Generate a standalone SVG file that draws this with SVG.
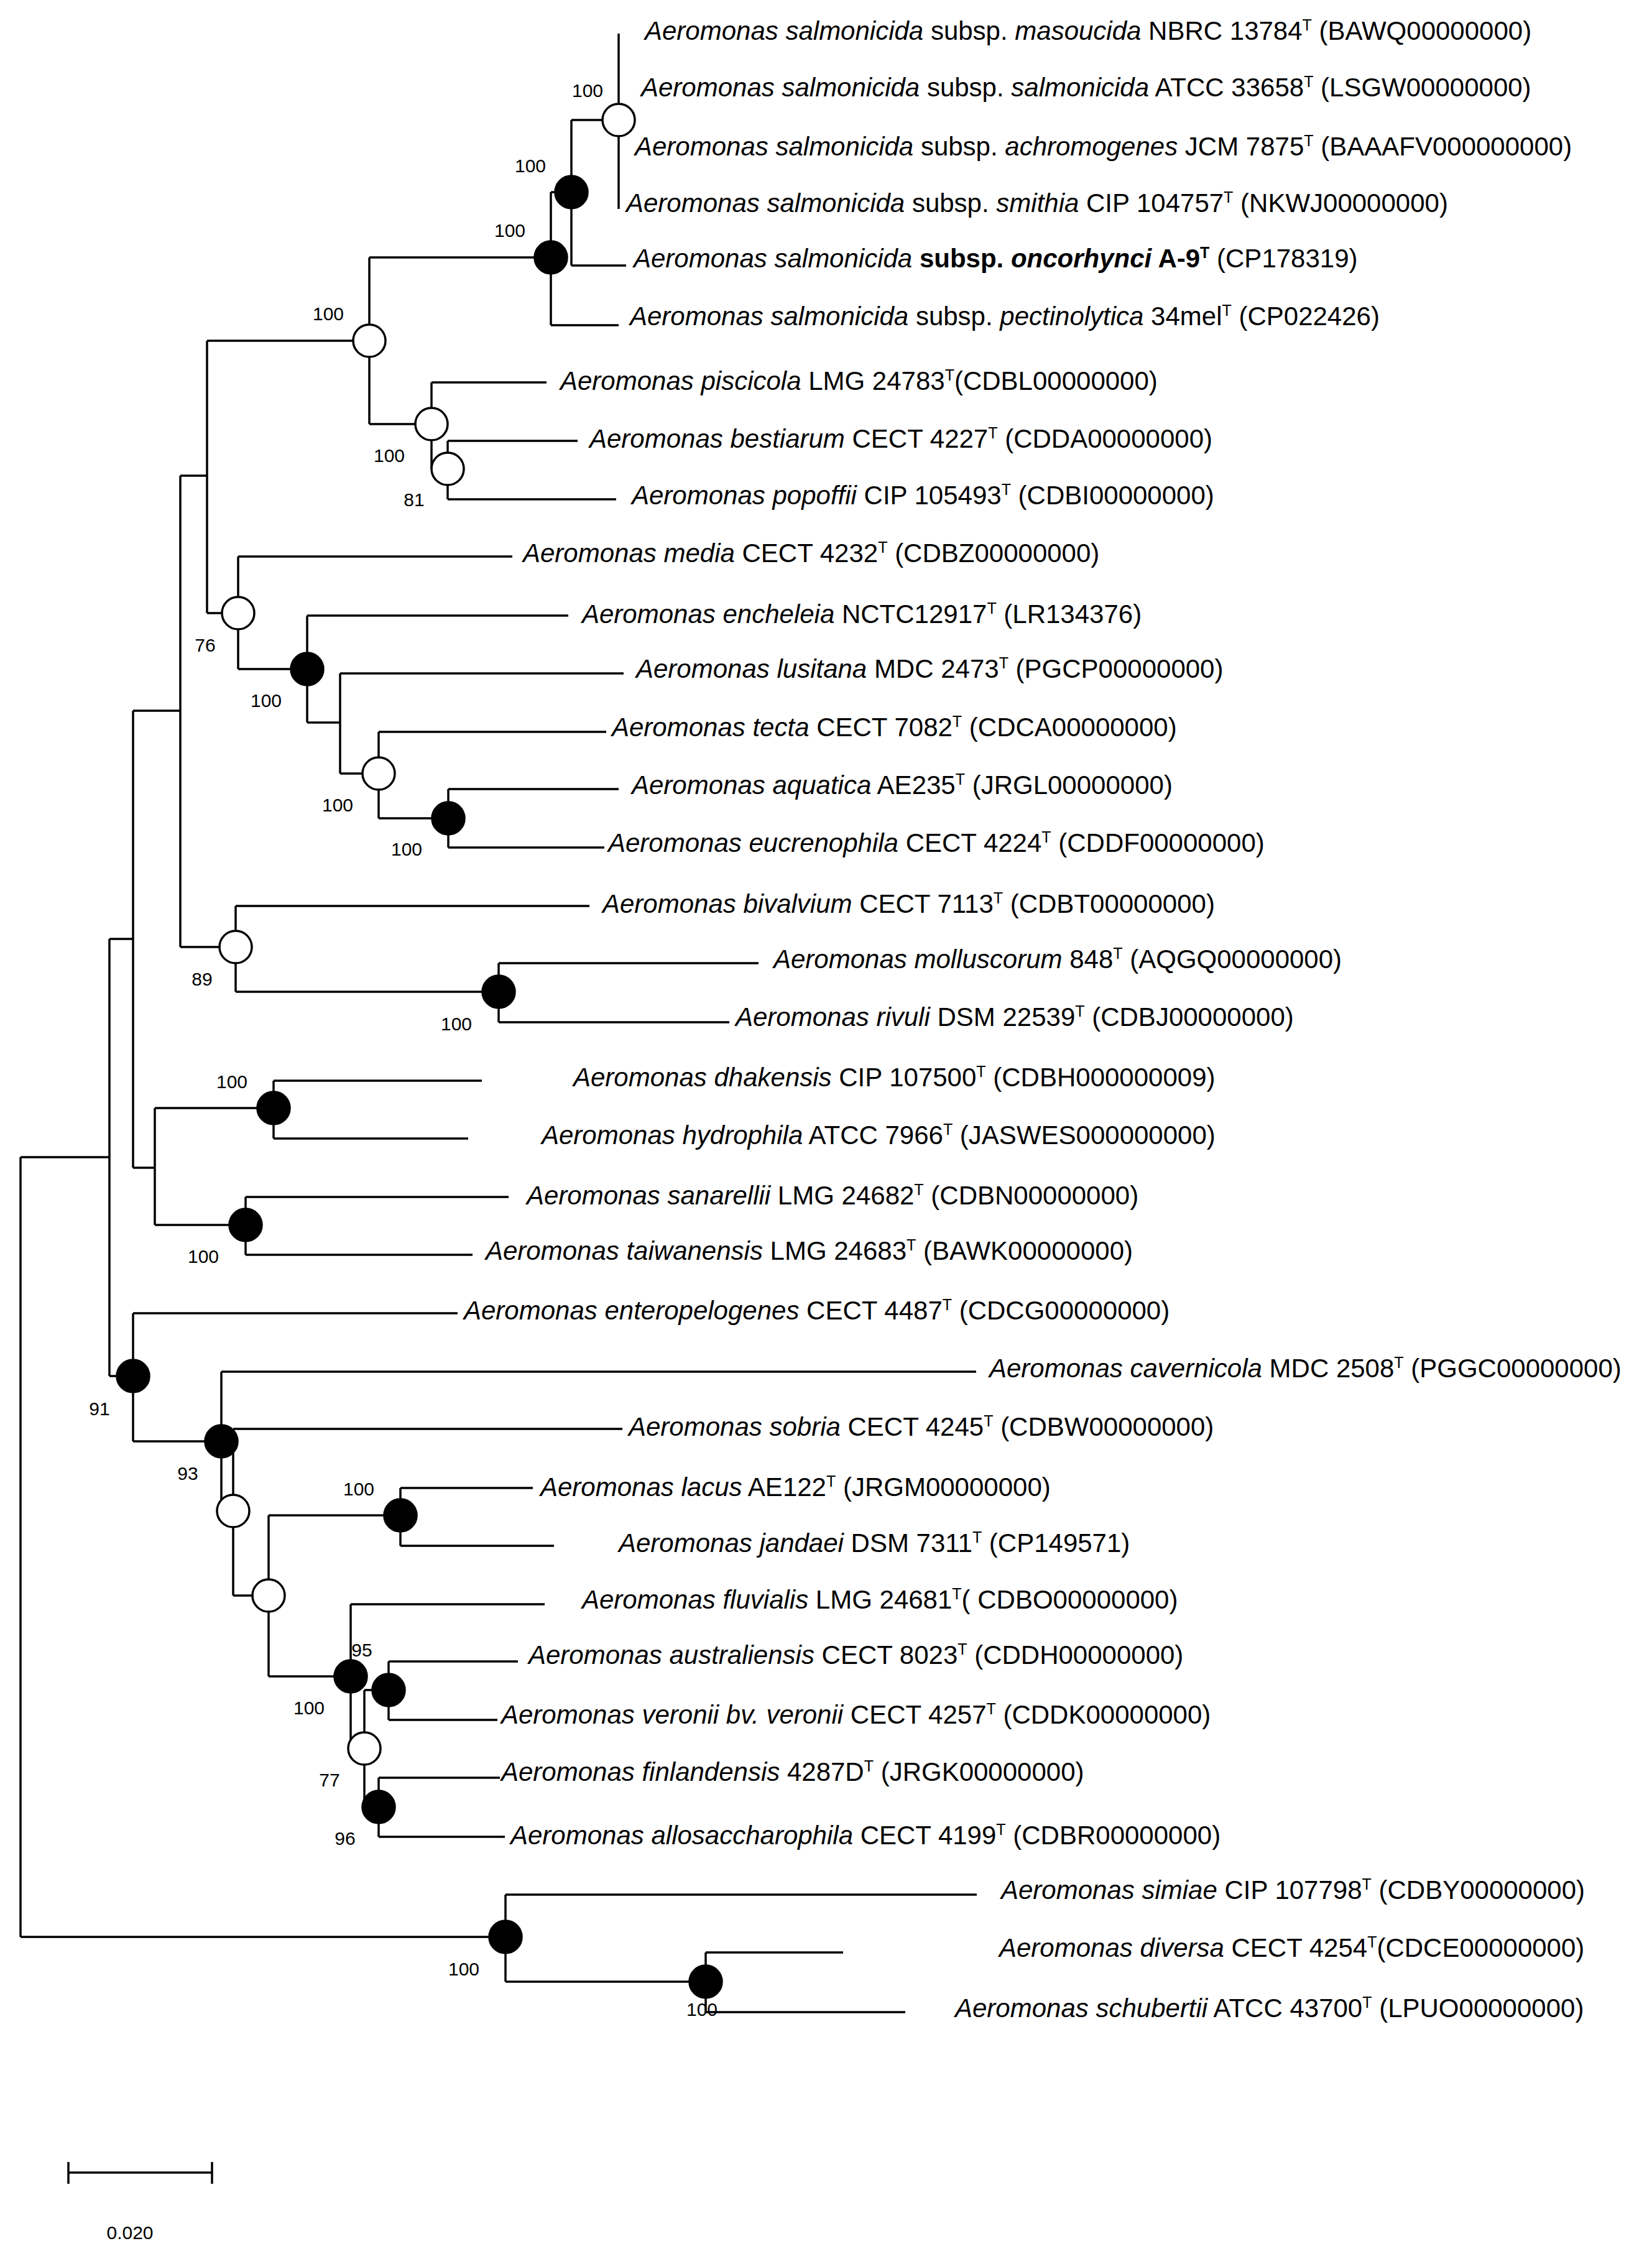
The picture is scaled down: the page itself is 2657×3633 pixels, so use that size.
<svg xmlns="http://www.w3.org/2000/svg" width="2657" height="3633" viewBox="0 0 2657 3633">
<style>
.tx{font-family:"Liberation Sans",Arial,sans-serif;font-size:42px;fill:#000}
.it{font-style:italic}
.b{font-weight:bold}
.bs{font-family:"Liberation Sans",Arial,sans-serif;font-size:30px;fill:#000;text-anchor:middle}
.br{stroke:#000;stroke-width:3.5;fill:none}
.on{fill:#fff;stroke:#000;stroke-width:3.5}
.fn{fill:#000;stroke:#000;stroke-width:3.5}
.sup{font-size:25px}
</style>
<rect width="2657" height="3633" fill="#fff"/>
<g id="connectors" class="br">
<path d="M33,1861 V3115 M33,1861 H176 M33,3115 H813"/>
<path d="M176,1510 V2213 M176,1510 H214 M176,2213 H214"/>
<path d="M214,1143 V1878 M214,1143 H290 M214,1878 H249"/>
<path d="M290,765 V1523 M290,765 H333 M290,1523 H379"/>
<path d="M333,548 V986 M333,548 H594 M333,986 H383"/>
<path d="M594,414 V682 M594,414 H886 M594,682 H694"/>
<path d="M886,309 V523 M886,309 H919 M886,523 H995"/>
<path d="M919,193 V427 M919,193 H995 M919,427 H1007"/>
<path d="M995,54 V336"/>
<path d="M694,615 V753 M694,615 H879 M694,753 H720"/>
<path d="M720,709 V803 M720,709 H929 M720,803 H991"/>
<path d="M383,895 V1076 M383,895 H824 M383,1076 H494"/>
<path d="M494,990 V1162 M494,990 H914 M494,1162 H547"/>
<path d="M547,1083 V1244 M547,1083 H1003 M547,1244 H609"/>
<path d="M609,1177 V1316 M609,1177 H975 M609,1316 H721"/>
<path d="M721,1269 V1363 M721,1269 H995 M721,1363 H972"/>
<path d="M379,1457 V1595 M379,1457 H948 M379,1595 H802"/>
<path d="M802,1549 V1644 M802,1549 H1220 M802,1644 H1173"/>
<path d="M249,1782 V1970 M249,1782 H440 M249,1970 H395"/>
<path d="M440,1738 V1831 M440,1738 H775 M440,1831 H753"/>
<path d="M395,1925 V2018 M395,1925 H818 M395,2018 H760"/>
<path d="M214,2112 V2318 M214,2112 H736 M214,2318 H356"/>
<path d="M356,2206 V2430 M356,2206 H1570 M356,2430 H375"/>
<path d="M375,2298 V2566 M375,2298 H1001 M375,2566 H432"/>
<path d="M432,2437 V2696 M432,2437 H644 M432,2696 H564"/>
<path d="M644,2393 V2486 M644,2393 H857 M644,2486 H891"/>
<path d="M564,2580 V2812 M564,2580 H876 M564,2812 H586"/>
<path d="M586,2718 V2906 M586,2718 H625 M586,2906 H609"/>
<path d="M625,2672 V2766 M625,2672 H833 M625,2766 H800"/>
<path d="M609,2859 V2954 M609,2859 H804 M609,2954 H812"/>
<path d="M813,3047 V3187 M813,3047 H1571 M813,3187 H1135"/>
<path d="M1135,3140 V3236 M1135,3140 H1356 M1135,3236 H1456"/>
</g>
<g id="nodes">
<g id="n-D"><circle class="on" cx="995" cy="193" r="26"/><text class="bs" x="945" y="156">100</text></g>
<g id="n-C"><circle class="fn" cx="919" cy="309" r="26"/><text class="bs" x="853" y="277">100</text></g>
<g id="n-B"><circle class="fn" cx="886" cy="414" r="26"/><text class="bs" x="820" y="381">100</text></g>
<g id="n-A"><circle class="on" cx="594" cy="548" r="26"/><text class="bs" x="528" y="515">100</text></g>
<g id="n-E"><circle class="on" cx="694" cy="682" r="26"/><text class="bs" x="626" y="743">100</text></g>
<g id="n-F"><circle class="on" cx="720" cy="754" r="26"/><text class="bs" x="666" y="814">81</text></g>
<g id="n-76"><circle class="on" cx="383" cy="986" r="26"/><text class="bs" x="330" y="1048">76</text></g>
<g id="n-G"><circle class="fn" cx="494" cy="1076" r="26"/><text class="bs" x="428" y="1137">100</text></g>
<g id="n-I"><circle class="on" cx="609" cy="1244" r="26"/><text class="bs" x="543" y="1305">100</text></g>
<g id="n-J"><circle class="fn" cx="721" cy="1316" r="26"/><text class="bs" x="654" y="1376">100</text></g>
<g id="n-89"><circle class="on" cx="379" cy="1523" r="26"/><text class="bs" x="325" y="1585">89</text></g>
<g id="n-K"><circle class="fn" cx="802" cy="1595" r="26"/><text class="bs" x="734" y="1657">100</text></g>
<g id="n-L"><circle class="fn" cx="440" cy="1782" r="26"/><text class="bs" x="373" y="1750">100</text></g>
<g id="n-M"><circle class="fn" cx="395" cy="1970" r="26"/><text class="bs" x="327" y="2031">100</text></g>
<g id="n-91"><circle class="fn" cx="214" cy="2213" r="26"/><text class="bs" x="160" y="2276">91</text></g>
<g id="n-93"><circle class="fn" cx="356" cy="2318" r="26"/><text class="bs" x="302" y="2380">93</text></g>
<g id="n-Z1"><circle class="on" cx="375" cy="2430" r="26"/></g>
<g id="n-Z2"><circle class="on" cx="432" cy="2566" r="26"/></g>
<g id="n-N"><circle class="fn" cx="644" cy="2437" r="26"/><text class="bs" x="577" y="2405">100</text></g>
<g id="n-O"><circle class="fn" cx="564" cy="2696" r="26"/><text class="bs" x="582" y="2664">95</text><text class="bs" x="497" y="2757">100</text></g>
<g id="n-Q"><circle class="fn" cx="625" cy="2718" r="26"/></g>
<g id="n-P"><circle class="on" cx="586" cy="2812" r="26"/><text class="bs" x="530" y="2873">77</text></g>
<g id="n-R"><circle class="fn" cx="609" cy="2906" r="26"/><text class="bs" x="555" y="2967">96</text></g>
<g id="n-S"><circle class="fn" cx="813" cy="3115" r="26"/><text class="bs" x="746" y="3177">100</text></g>
<g id="n-T"><circle class="fn" cx="1135" cy="3187" r="26"/><text class="bs" x="1129" y="3242">100</text></g>
</g>
<g id="taxa" class="tx">
<g id="t01"><text x="1037" y="64"><tspan class="it">Aeromonas salmonicida</tspan> subsp. <tspan class="it">masoucida</tspan> NBRC 13784<tspan class="sup" dy="-15">T</tspan><tspan dy="15"> (BAWQ00000000)</tspan></text></g>
<g id="t02"><text x="1031" y="155"><tspan class="it">Aeromonas salmonicida</tspan> subsp. <tspan class="it">salmonicida</tspan> ATCC 33658<tspan class="sup" dy="-15">T</tspan><tspan dy="15"> (LSGW00000000)</tspan></text></g>
<g id="t03"><text x="1021" y="250"><tspan class="it">Aeromonas salmonicida</tspan> subsp. <tspan class="it">achromogenes</tspan> JCM 7875<tspan class="sup" dy="-15">T</tspan><tspan dy="15"> (BAAAFV000000000)</tspan></text></g>
<g id="t04"><text x="1007" y="341"><tspan class="it">Aeromonas salmonicida</tspan> subsp. <tspan class="it">smithia</tspan> CIP 104757<tspan class="sup" dy="-15">T</tspan><tspan dy="15"> (NKWJ00000000)</tspan></text></g>
<g id="t05"><text x="1019" y="430"><tspan class="it">Aeromonas salmonicida</tspan> <tspan class="b">subsp. </tspan><tspan class="b it">oncorhynci</tspan><tspan class="b"> A-9</tspan><tspan class="sup b" dy="-15">T</tspan><tspan dy="15"> (CP178319)</tspan></text></g>
<g id="t06"><text x="1013" y="523"><tspan class="it">Aeromonas salmonicida</tspan> subsp. <tspan class="it">pectinolytica</tspan> 34mel<tspan class="sup" dy="-15">T</tspan><tspan dy="15"> (CP022426)</tspan></text></g>
<g id="t07"><text x="901" y="627"><tspan class="it">Aeromonas piscicola</tspan> LMG 24783<tspan class="sup" dy="-15">T</tspan><tspan dy="15">(CDBL00000000)</tspan></text></g>
<g id="t08"><text x="948" y="720"><tspan class="it">Aeromonas bestiarum</tspan> CECT 4227<tspan class="sup" dy="-15">T</tspan><tspan dy="15"> (CDDA00000000)</tspan></text></g>
<g id="t09"><text x="1016" y="811"><tspan class="it">Aeromonas popoffii</tspan> CIP 105493<tspan class="sup" dy="-15">T</tspan><tspan dy="15"> (CDBI00000000)</tspan></text></g>
<g id="t10"><text x="841" y="904"><tspan class="it">Aeromonas media</tspan> CECT 4232<tspan class="sup" dy="-15">T</tspan><tspan dy="15"> (CDBZ00000000)</tspan></text></g>
<g id="t11"><text x="936" y="1002"><tspan class="it">Aeromonas encheleia</tspan> NCTC12917<tspan class="sup" dy="-15">T</tspan><tspan dy="15"> (LR134376)</tspan></text></g>
<g id="t12"><text x="1023" y="1090"><tspan class="it">Aeromonas lusitana</tspan> MDC 2473<tspan class="sup" dy="-15">T</tspan><tspan dy="15"> (PGCP00000000)</tspan></text></g>
<g id="t13"><text x="984" y="1184"><tspan class="it">Aeromonas tecta</tspan> CECT 7082<tspan class="sup" dy="-15">T</tspan><tspan dy="15"> (CDCA00000000)</tspan></text></g>
<g id="t14"><text x="1016" y="1277"><tspan class="it">Aeromonas aquatica</tspan> AE235<tspan class="sup" dy="-15">T</tspan><tspan dy="15"> (JRGL00000000)</tspan></text></g>
<g id="t15"><text x="978" y="1370"><tspan class="it">Aeromonas eucrenophila</tspan> CECT 4224<tspan class="sup" dy="-15">T</tspan><tspan dy="15"> (CDDF00000000)</tspan></text></g>
<g id="t16"><text x="969" y="1468"><tspan class="it">Aeromonas bivalvium</tspan> CECT 7113<tspan class="sup" dy="-15">T</tspan><tspan dy="15"> (CDBT00000000)</tspan></text></g>
<g id="t17"><text x="1244" y="1557"><tspan class="it">Aeromonas molluscorum</tspan> 848<tspan class="sup" dy="-15">T</tspan><tspan dy="15"> (AQGQ00000000)</tspan></text></g>
<g id="t18"><text x="1183" y="1650"><tspan class="it">Aeromonas rivuli</tspan> DSM 22539<tspan class="sup" dy="-15">T</tspan><tspan dy="15"> (CDBJ00000000)</tspan></text></g>
<g id="t19"><text x="922" y="1747"><tspan class="it">Aeromonas dhakensis</tspan> CIP 107500<tspan class="sup" dy="-15">T</tspan><tspan dy="15"> (CDBH000000009)</tspan></text></g>
<g id="t20"><text x="871" y="1840"><tspan class="it">Aeromonas hydrophila</tspan> ATCC 7966<tspan class="sup" dy="-15">T</tspan><tspan dy="15"> (JASWES000000000)</tspan></text></g>
<g id="t21"><text x="847" y="1937"><tspan class="it">Aeromonas sanarellii</tspan> LMG 24682<tspan class="sup" dy="-15">T</tspan><tspan dy="15"> (CDBN00000000)</tspan></text></g>
<g id="t22"><text x="781" y="2026"><tspan class="it">Aeromonas taiwanensis</tspan> LMG 24683<tspan class="sup" dy="-15">T</tspan><tspan dy="15"> (BAWK00000000)</tspan></text></g>
<g id="t23"><text x="746" y="2122"><tspan class="it">Aeromonas enteropelogenes</tspan> CECT 4487<tspan class="sup" dy="-15">T</tspan><tspan dy="15"> (CDCG00000000)</tspan></text></g>
<g id="t24"><text x="1591" y="2215"><tspan class="it">Aeromonas cavernicola</tspan> MDC 2508<tspan class="sup" dy="-15">T</tspan><tspan dy="15"> (PGGC00000000)</tspan></text></g>
<g id="t25"><text x="1011" y="2309"><tspan class="it">Aeromonas sobria</tspan> CECT 4245<tspan class="sup" dy="-15">T</tspan><tspan dy="15"> (CDBW00000000)</tspan></text></g>
<g id="t26"><text x="869" y="2406"><tspan class="it">Aeromonas lacus</tspan> AE122<tspan class="sup" dy="-15">T</tspan><tspan dy="15"> (JRGM00000000)</tspan></text></g>
<g id="t27"><text x="995" y="2496"><tspan class="it">Aeromonas jandaei</tspan> DSM 7311<tspan class="sup" dy="-15">T</tspan><tspan dy="15"> (CP149571)</tspan></text></g>
<g id="t28"><text x="936" y="2587"><tspan class="it">Aeromonas fluvialis</tspan> LMG 24681<tspan class="sup" dy="-15">T</tspan><tspan dy="15">( CDBO00000000)</tspan></text></g>
<g id="t29"><text x="850" y="2676"><tspan class="it">Aeromonas australiensis</tspan> CECT 8023<tspan class="sup" dy="-15">T</tspan><tspan dy="15"> (CDDH00000000)</tspan></text></g>
<g id="t30"><text x="806" y="2772"><tspan class="it">Aeromonas veronii bv. veronii</tspan> CECT 4257<tspan class="sup" dy="-15">T</tspan><tspan dy="15"> (CDDK00000000)</tspan></text></g>
<g id="t31"><text x="806" y="2864"><tspan class="it">Aeromonas finlandensis</tspan> 4287D<tspan class="sup" dy="-15">T</tspan><tspan dy="15"> (JRGK00000000)</tspan></text></g>
<g id="t32"><text x="821" y="2966"><tspan class="it">Aeromonas allosaccharophila</tspan> CECT 4199<tspan class="sup" dy="-15">T</tspan><tspan dy="15"> (CDBR00000000)</tspan></text></g>
<g id="t33"><text x="1610" y="3054"><tspan class="it">Aeromonas simiae</tspan> CIP 107798<tspan class="sup" dy="-15">T</tspan><tspan dy="15"> (CDBY00000000)</tspan></text></g>
<g id="t34"><text x="1607" y="3147"><tspan class="it">Aeromonas diversa</tspan> CECT 4254<tspan class="sup" dy="-15">T</tspan><tspan dy="15">(CDCE00000000)</tspan></text></g>
<g id="t35"><text x="1536" y="3244"><tspan class="it">Aeromonas schubertii</tspan> ATCC 43700<tspan class="sup" dy="-15">T</tspan><tspan dy="15"> (LPUO00000000)</tspan></text></g>
</g>
<g id="scale">
<path class="br" d="M110,3494 H341 M110,3477 V3512 M341,3477 V3512"/>
<text class="bs" x="209" y="3601">0.020</text>
</g>
</svg>
